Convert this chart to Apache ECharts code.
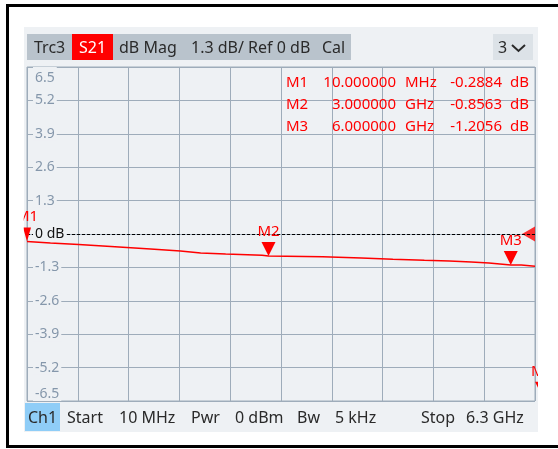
<!DOCTYPE html>
<html>
<head>
<meta charset="utf-8">
<script src="https://cdn.jsdelivr.net/npm/echarts@6/dist/echarts.min.js"></script>
<style>
  html, body { margin: 0; padding: 0; background: #fff; }
  #chart { width: 558px; height: 449px; }
</style>
</head>
<body>
<div id="chart"></div>
<script>
'use strict';

// trace (S21, dB)
var freqMHz = [10, 300, 650, 1050, 1540, 1910, 2160, 2470, 2920, 3000, 3670, 4150, 4540, 4930, 5240, 5510, 5730, 6000, 6130, 6300];
var traceDb = [-0.2884, -0.35, -0.41, -0.49, -0.585, -0.66, -0.74, -0.78, -0.83, -0.8563, -0.885, -0.934, -0.98, -1.02, -1.05, -1.09, -1.13, -1.2056, -1.21, -1.257];

// markers (M4 sits past the right edge of the display)
var markerNames = ['M1', 'M2', 'M3', 'M4'];
var markerFreqMHz = [10, 3000, 6000, 6300];
var markerDb = [-0.2884, -0.8563, -1.2056, -6.3];
var markerFreqText = ['10.000000', '3.000000', '6.000000'];
var markerUnit = ['MHz', 'GHz', 'GHz'];
var markerValText = ['-0.2884', '-0.8563', '-1.2056'];

var refLevel = 0;
var yTicks = [-6.5, -5.2, -3.9, -2.6, -1.3, 0, 1.3, 2.6, 3.9, 5.2, 6.5];
var yTickLabels = ['-6.5', '-5.2', '-3.9', '-2.6', '-1.3', '0 dB', '1.3', '2.6', '3.9', '5.2', '6.5'];

var headerItems = ['Trc3', 'S21', 'dB Mag', '1.3 dB/ Ref 0 dB', 'Cal'];
var headerX = [34, 79, 119, 191, 322];
var footerItems = ['Ch1', 'Start', '10 MHz', 'Pwr', '0 dBm', 'Bw', '5 kHz', 'Stop', '6.3 GHz'];
var footerX = [28, 67, 119, 191, 235, 297, 335, 421, 466];

var FONT = '"Noto Sans", sans-serif';
var panelColor = '#eef1f4';
var gridColor = '#9eacba';

var chart = echarts.init(document.getElementById('chart'));

var trace = freqMHz.map(function (f, i) { return [f, traceDb[i]]; });

var mpData = markerNames.map(function (n, i) {
    var d = {
        name: n,
        coord: [markerFreqMHz[i], markerDb[i]],
        symbolSize: i === 0 ? [8, 14] : [14, 14]
    };
    if (i === 3) d.symbolOffset = [7, '-50%'];
    return d;
});

var graphics = [];
// panel + frame (left, top, bottom edges; right edge is off screen)
graphics.push({ type: 'rect', z: -10, shape: { x: 24, y: 27, width: 514, height: 405 }, style: { fill: panelColor } });
graphics.push({ type: 'polyline', z: 100, shape: { points: [[558, 5.5], [7.5, 5.5], [7.5, 446.5], [558, 446.5]] }, style: { fill: null, stroke: '#000', lineWidth: 3 } });
// header
graphics.push({ type: 'rect', z: 1, shape: { x: 27, y: 34, width: 324, height: 26 }, style: { fill: '#b9c3cc' } });
graphics.push({ type: 'rect', z: 2, shape: { x: 72, y: 34, width: 41, height: 26 }, style: { fill: '#ff0000' } });
graphics.push({ type: 'rect', z: 1, shape: { x: 493, y: 34, width: 40, height: 26 }, style: { fill: '#dce2e7' } });
headerItems.forEach(function (t, i) {
    graphics.push({
        type: 'text', z: 3, x: headerX[i], y: 48,
        style: { text: t, font: '16px ' + FONT, fill: i === 1 ? '#fff' : '#2a2a2a', textVerticalAlign: 'middle' }
    });
});
graphics.push({ type: 'text', z: 3, x: 498, y: 48, style: { text: '3', font: '16px ' + FONT, fill: '#2a2a2a', textVerticalAlign: 'middle' } });
graphics.push({ type: 'polyline', z: 3, shape: { points: [[512, 45], [518.5, 51], [525, 45]] }, style: { stroke: '#2a2a2a', lineWidth: 2, fill: null } });
// footer
graphics.push({ type: 'rect', z: 1, shape: { x: 25, y: 403, width: 35, height: 28 }, style: { fill: '#8fcdf7' } });
footerItems.forEach(function (t, i) {
    graphics.push({
        type: 'text', z: 3, x: footerX[i], y: 418,
        style: { text: t, font: '16px ' + FONT, fill: '#2a2a2a', textVerticalAlign: 'middle' }
    });
});
// marker table
var rowY = [82.5, 104.5, 126.5];
markerFreqText.forEach(function (t, i) {
    var y = rowY[i];
    var st = function (txt, align) {
        return { text: txt, font: '15px ' + FONT, fill: '#ff0000', textAlign: align, textVerticalAlign: 'middle' };
    };
    graphics.push({ type: 'text', z: 20, x: 286, y: y, style: st(markerNames[i], 'left') });
    graphics.push({ type: 'text', z: 20, x: 396, y: y, style: st(t, 'right') });
    graphics.push({ type: 'text', z: 20, x: 405, y: y, style: st(markerUnit[i], 'left') });
    graphics.push({ type: 'text', z: 20, x: 502, y: y, style: st(markerValText[i], 'right') });
    graphics.push({ type: 'text', z: 20, x: 510, y: y, style: st('dB', 'left') });
});
// display edges clip marker overflow
graphics.push({ type: 'rect', z: 90, shape: { x: 9.5, y: 27, width: 14.2, height: 405 }, style: { fill: '#fff' } });
graphics.push({ type: 'rect', z: 90, shape: { x: 538, y: 27, width: 20, height: 405 }, style: { fill: '#fff' } });

chart.setOption({
    backgroundColor: '#fff',
    animation: false,
    textStyle: { fontFamily: FONT },
    grid: {
        left: 27, right: 23, top: 67, bottom: 48,
        show: true,
        backgroundColor: panelColor,
        borderColor: gridColor,
        borderWidth: 1
    },
    xAxis: [
        {
            type: 'value', min: 0, max: 10, interval: 1, position: 'bottom',
            axisLine: { show: false }, axisTick: { show: false }, axisLabel: { show: false },
            splitLine: { show: true, lineStyle: { color: gridColor, width: 1 } }
        },
        {
            type: 'value', min: 10, max: 6300, position: 'top', show: false,
            splitLine: { show: false }
        }
    ],
    yAxis: [
        {
            type: 'value', min: -6.5, max: 6.5, interval: 1.3, position: 'right',
            axisLine: { show: false }, axisTick: { show: false }, axisLabel: { show: false },
            splitLine: { show: true, lineStyle: { color: gridColor, width: 1 } }
        },
        {
            type: 'value', min: -6.5, max: 6.5, interval: 1.3, position: 'left', z: 10,
            axisLine: { show: false }, axisTick: { show: false },
            splitLine: { show: false },
            axisLabel: {
                inside: true,
                margin: 6,
                fontSize: 14,
                fontFamily: FONT,
                padding: [0, 2],
                backgroundColor: panelColor,
                verticalAlignMaxLabel: 'top',
                verticalAlignMinLabel: 'bottom',
                formatter: function (v, i) {
                    var s = yTickLabels[i];
                    return i === yTickLabels.length - 1 ? '{top|' + s + '}' : s;
                },
                rich: {
                    top: { padding: [4, 0, 0, 0], fontSize: 14, fontFamily: FONT, color: '#8597ab' }
                },
                color: function (v) { return Math.abs(v) < 1e-6 ? '#111' : '#8597ab'; }
            }
        }
    ],
    graphic: graphics,
    series: [
        {
            type: 'line',
            xAxisIndex: 1,
            yAxisIndex: 0,
            data: trace,
            showSymbol: false,
            lineStyle: { color: '#ff0000', width: 1.5 },
            markLine: {
                silent: true,
                symbol: 'none',
                label: { show: false },
                lineStyle: { color: '#000', type: [3, 2], width: 1 },
                data: [{ yAxis: refLevel }]
            },
            markPoint: {
                silent: true,
                symbol: 'triangle',
                symbolRotate: 180,
                symbolOffset: [0, '-50%'],
                itemStyle: { color: '#ff0000' },
                label: {
                    show: true, position: 'top', distance: 3,
                    formatter: '{b}', color: '#ff0000', fontSize: 15, fontFamily: FONT
                },
                data: mpData
            }
        },
        {
            type: 'scatter',
            xAxisIndex: 1,
            yAxisIndex: 0,
            silent: true,
            data: [[6300, refLevel]],
            symbol: 'triangle',
            symbolRotate: 90,
            symbolSize: [15, 13],
            symbolOffset: [-6.5, 0],
            itemStyle: { color: '#ff0000' }
        }
    ]
});
</script>
</body>
</html>
